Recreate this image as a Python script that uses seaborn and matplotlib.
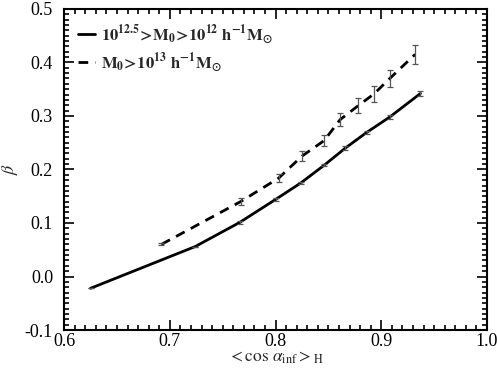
import numpy as np
import pandas as pd
import matplotlib
matplotlib.use("Agg")
import matplotlib.pyplot as plt
import seaborn as sns
from matplotlib.ticker import MultipleLocator

# Low-mass halo sample: 10^12.5 > M0 > 10^12
cos_low = [0.625, 0.724, 0.766, 0.800, 0.824, 0.846, 0.866, 0.886, 0.908, 0.937]
beta_low = [-0.022, 0.056, 0.101, 0.144, 0.175, 0.208, 0.240, 0.269, 0.298, 0.342]
err_low = [0.0, 0.0, 0.002, 0.002, 0.002, 0.002, 0.003, 0.003, 0.004, 0.005]

# High-mass halo sample: M0 > 10^13
cos_high = [0.692, 0.767, 0.803, 0.825, 0.846, 0.861, 0.878, 0.893, 0.908, 0.932]
beta_high = [0.060, 0.140, 0.184, 0.225, 0.254, 0.293, 0.319, 0.341, 0.370, 0.415]
err_high = [0.002, 0.007, 0.0075, 0.010, 0.011, 0.012, 0.014, 0.015, 0.016, 0.018]

label_low = r'$\mathbf{10^{12.5}\!>\!M_0\!>\!10^{12}\ h^{-1}M_{\odot}}$'
label_high = r'$\mathbf{M_0\!>\!10^{13}\ h^{-1}M_{\odot}}$'

sns.set_style("ticks")
plt.rcParams['font.family'] = ['Liberation Serif', 'DejaVu Serif']
plt.rcParams['mathtext.fontset'] = 'stix'

fig = plt.figure(figsize=(4.97, 3.70), dpi=100)
ax = fig.add_axes([0.129, 0.108, 0.851, 0.868])

df_low = pd.DataFrame({'x': cos_low, 'y': beta_low})
df_high = pd.DataFrame({'x': cos_high, 'y': beta_high})

sns.lineplot(data=df_low, x='x', y='y', ax=ax, color='black', lw=2.0,
             label=label_low, sort=False)
sns.lineplot(data=df_high, x='x', y='y', ax=ax, color='black', lw=2.0,
             linestyle=(0, (3.5, 2.5)), label=label_high, sort=False)

ax.errorbar(cos_low, beta_low, yerr=err_low, fmt='none', ecolor='#555555',
            elinewidth=0.9, capsize=2.5, capthick=0.9)
ax.errorbar(cos_high, beta_high, yerr=err_high, fmt='none', ecolor='#555555',
            elinewidth=0.9, capsize=2.5, capthick=0.9)

ax.set_xlim(0.6, 1.0)
ax.set_ylim(-0.1, 0.5)
ax.xaxis.set_major_locator(MultipleLocator(0.1))
ax.xaxis.set_minor_locator(MultipleLocator(0.01))
ax.yaxis.set_major_locator(MultipleLocator(0.1))
ax.yaxis.set_minor_locator(MultipleLocator(0.01))
ax.set_xticklabels([f"{v:.1f}" for v in ax.get_xticks()])
ax.set_yticklabels([f"{v:.1f}" for v in ax.get_yticks()])

ax.tick_params(which='both', direction='in', top=True, right=True,
               labelsize=13, width=1.2, colors='black')
ax.tick_params(which='major', length=7)
ax.tick_params(which='minor', length=3.5)
ax.tick_params(axis='x', which='major', pad=2)
ax.tick_params(axis='y', which='major', pad=8)
for s in ax.spines.values():
    s.set_linewidth(1.5)
    s.set_color('black')

ax.set_xlabel(r'$<\cos\,\alpha_{\rm inf}>_{\rm H}$', fontsize=12.5, labelpad=0)
ax.set_ylabel(r'$\beta$', fontsize=13)
ax.yaxis.set_label_coords(-0.105, 0.5)

leg = ax.legend(loc='upper left', frameon=False, fontsize=12,
                handlelength=1.0, handletextpad=0.35, borderaxespad=0.55,
                labelspacing=0.25, borderpad=0.3)

fig.savefig("out.png", dpi=100)
